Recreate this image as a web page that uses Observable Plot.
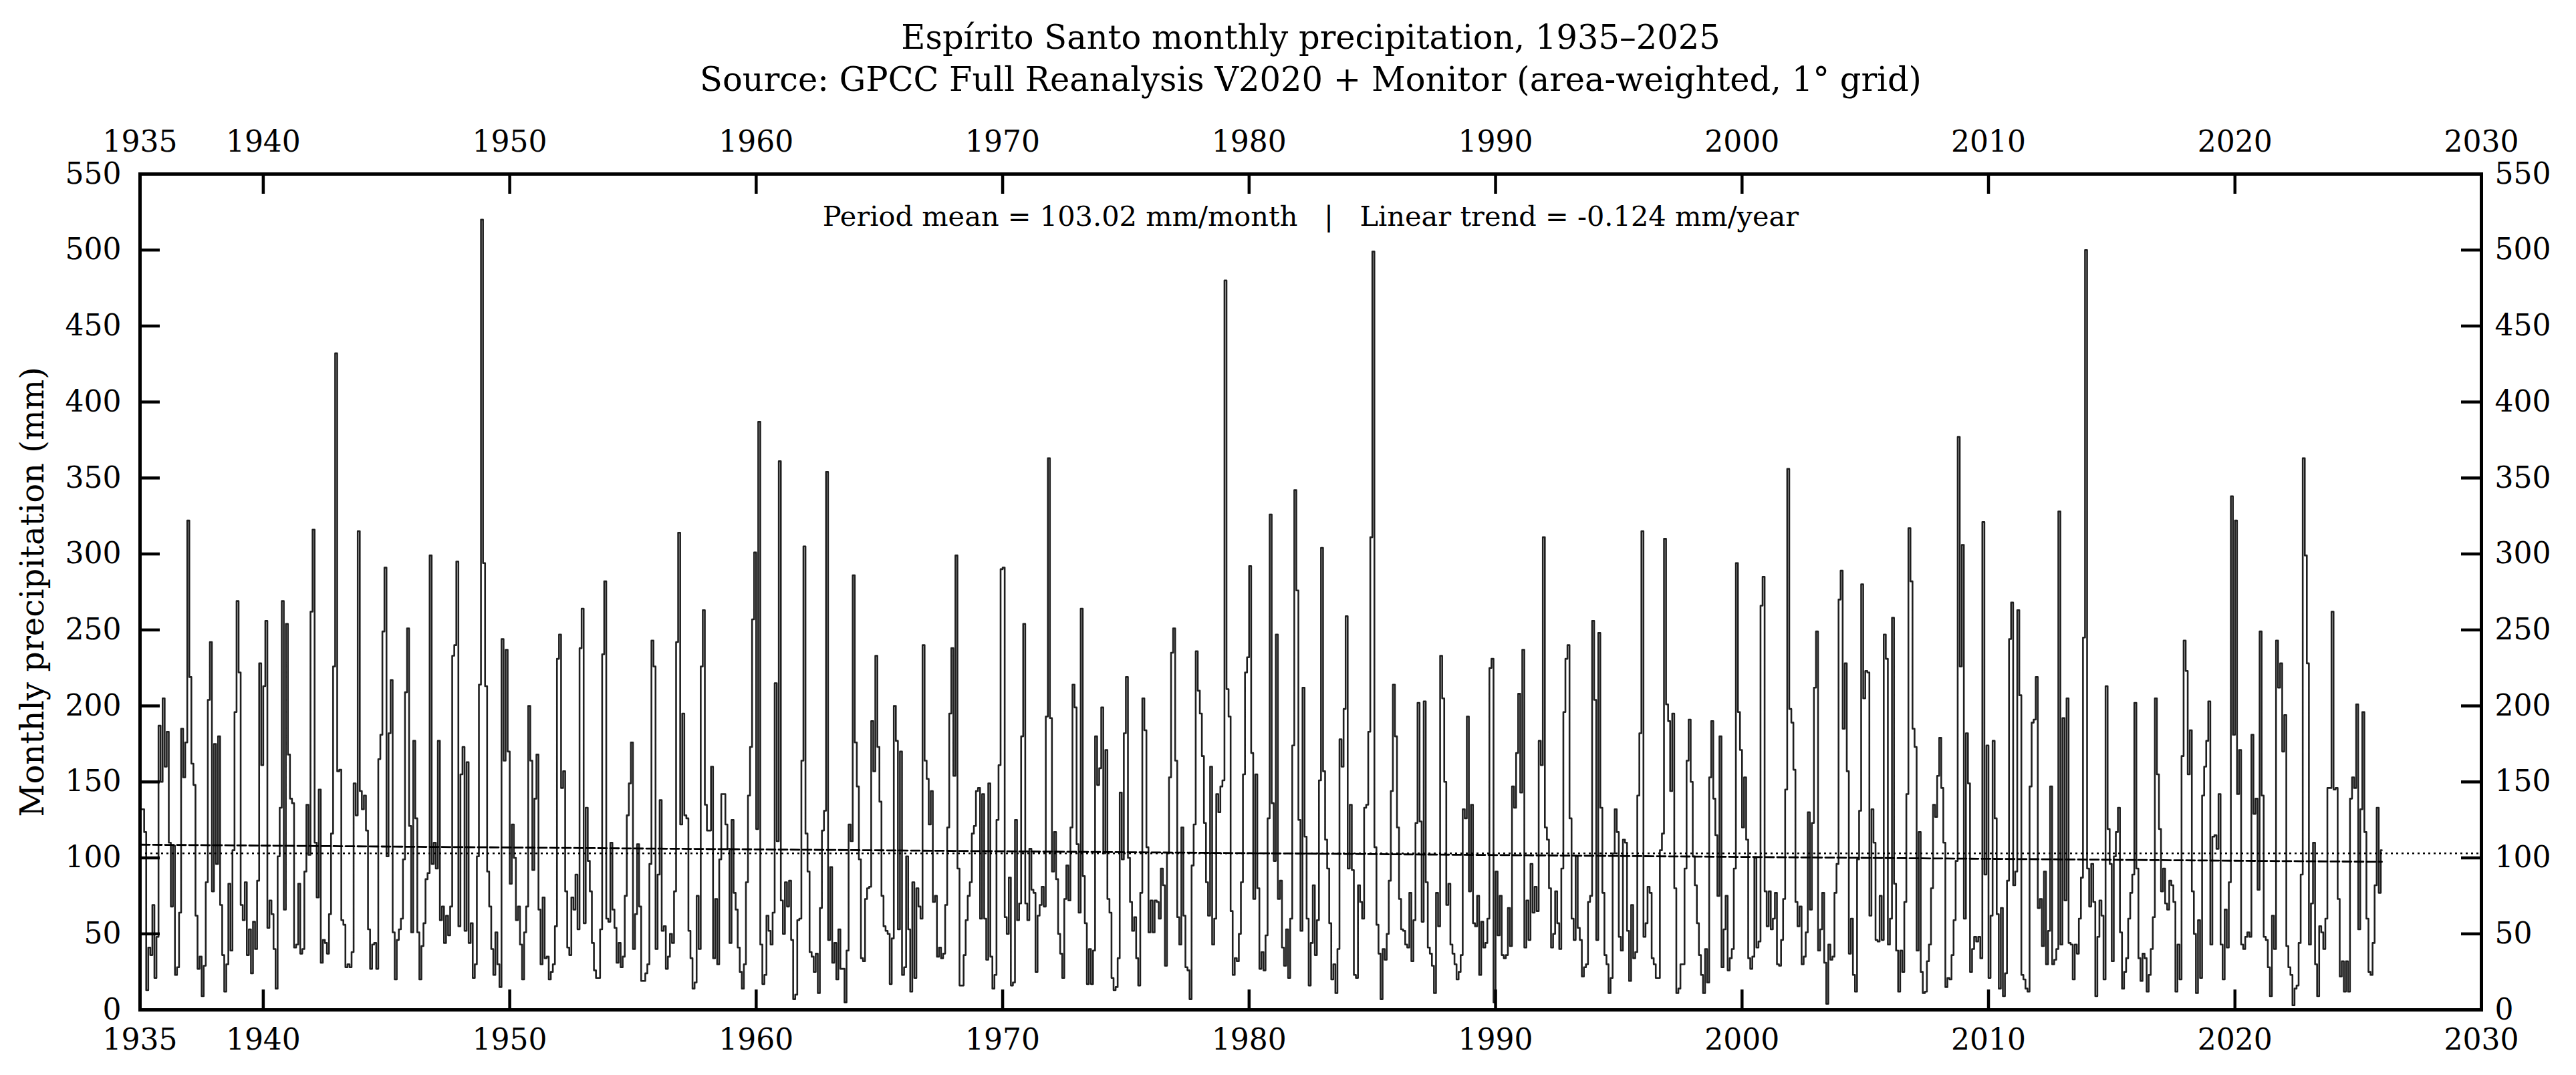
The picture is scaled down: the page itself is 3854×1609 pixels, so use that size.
<!DOCTYPE html>
<html>
<head>
<meta charset="utf-8">
<script src="https://cdn.jsdelivr.net/npm/d3@7"></script>
<script src="https://cdn.jsdelivr.net/npm/@observablehq/plot@0.6"></script>
<style>
html, body { margin: 0; padding: 0; background: #ffffff; }
svg { display: block; }
</style>
</head>
<body>
<div id="chart"></div>
<script>
// Monthly precipitation (mm), Jan..Dec for each year
const p1930s = [
  132,132,117,13,41,36,69,21,48,187,150,205,      // 1935
  160,183,110,68,108,23,28,64,185,153,176,322,    // 1936
  219,162,148,62,27,35,9,29,84,204,242,78,        // 1937
  175,96,180,69,36,12,30,83,39,105,196,269,       // 1938
  222,69,59,84,36,53,24,58,40,85,228,161          // 1939
];
const p1940s = [
  213,256,54,72,63,40,14,101,133,269,66,254,      // 1940
  168,139,136,41,43,83,37,40,91,135,102,262,      // 1941
  316,110,74,145,31,46,44,37,63,116,226,432,      // 1942
  157,158,59,56,28,30,28,38,149,128,315,144,      // 1943
  132,141,118,53,27,43,44,27,165,181,249,291,     // 1944
  101,182,217,51,20,46,53,60,99,209,251,121,      // 1945
  51,177,126,51,20,42,57,86,90,299,96,110,        // 1946
  93,177,59,68,44,62,49,68,233,240,295,55,        // 1947
  155,173,52,163,44,57,21,30,101,214,520,294,     // 1948
  213,91,68,40,23,51,30,15,244,164,237,170        // 1949
];
const p1950s = [
  83,122,100,59,68,43,20,51,68,200,164,92,        // 1950
  139,168,66,30,74,34,35,20,25,30,55,231,         // 1951
  247,146,157,78,41,36,74,66,89,53,238,264,       // 1952
  57,133,98,78,44,26,21,21,53,234,282,60,         // 1953
  58,110,66,54,31,44,28,35,75,128,149,176,        // 1954
  40,63,109,68,19,19,24,30,96,243,226,40,         // 1955
  89,138,52,55,27,35,50,44,78,242,314,122,        // 1956
  195,128,126,52,34,14,18,75,40,226,263,135,      // 1957
  118,118,160,34,73,30,99,142,142,122,106,44,     // 1958
  125,77,66,41,25,14,30,84,141,173,257,301        // 1959
];
const p1960s = [
  119,387,43,17,23,62,52,43,64,215,111,361,       // 1960
  72,50,84,68,85,46,7,10,59,60,164,305,           // 1961
  116,91,38,35,25,37,11,67,118,131,354,46,        // 1962
  94,31,44,20,53,27,27,5,39,122,111,286,          // 1963
  176,147,99,34,32,73,80,81,190,157,233,173,      // 1964
  137,75,55,52,50,17,47,200,177,53,170,23,        // 1965
  28,101,53,12,84,21,80,68,60,240,164,152,        // 1966
  122,144,71,75,35,41,34,37,69,120,195,238,       // 1967
  154,299,93,16,16,36,59,75,84,116,121,144,       // 1968
  146,60,142,60,33,149,35,14,23,125,161,290       // 1969
];
const p1970s = [
  291,61,50,87,16,18,125,59,70,180,254,70,        // 1970
  59,106,79,77,25,62,69,81,68,193,363,192,        // 1971
  91,117,86,50,37,21,73,95,72,120,214,199,        // 1972
  109,64,264,88,57,17,40,17,39,180,148,159,       // 1973
  199,103,171,73,64,21,13,15,34,143,99,182,       // 1974
  219,100,71,52,61,34,16,77,205,184,107,51,       // 1975
  72,51,72,71,60,93,82,29,103,153,235,251,        // 1976
  164,61,43,120,62,28,26,7,95,122,236,210,        // 1977
  195,167,123,84,62,160,43,60,142,130,147,151,    // 1978
  480,211,193,65,23,34,32,50,84,155,222,232       // 1979
];
const p1980s = [
  292,169,73,155,80,27,38,26,49,126,326,136,      // 1980
  98,247,73,85,41,29,53,21,60,174,342,276,        // 1981
  125,52,212,114,60,16,44,82,36,59,151,304,       // 1982
  157,112,93,57,20,30,11,40,178,160,198,259,      // 1983
  93,135,92,23,21,82,71,60,133,135,183,311,       // 1984
  499,107,56,37,7,40,33,50,85,144,214,180,        // 1985
  120,73,53,52,43,41,77,32,59,123,202,124,        // 1986
  58,203,84,41,37,29,11,77,55,233,205,150,        // 1987
  69,83,43,37,30,20,25,36,132,126,193,78,         // 1988
  135,57,55,75,23,58,41,44,60,225,231,5           // 1989
];
const p1990s = [
  91,49,75,36,34,36,67,42,147,133,169,208,        // 1990
  143,237,41,72,46,96,64,81,65,177,161,311,       // 1991
  120,112,80,41,50,78,57,40,93,196,231,240,       // 1992
  126,60,46,101,54,46,22,28,30,71,75,256,         // 1993
  204,46,248,133,77,36,30,11,21,103,132,117,      // 1994
  48,39,112,110,52,19,69,34,38,141,182,315,       // 1995
  48,57,81,77,34,30,21,21,105,116,310,201,        // 1996
  190,144,195,80,11,14,30,30,93,164,191,150,      // 1997
  101,82,57,36,23,11,40,18,153,190,139,115,       // 1998
  75,180,28,53,75,26,34,40,93,294,196,171         // 1999
];
const p2000s = [
  120,153,112,34,27,35,100,41,45,266,285,78,      // 2000
  55,78,53,60,77,30,29,46,73,145,356,198,         // 2001
  189,158,71,55,68,30,35,51,130,66,123,212,       // 2002
  249,39,53,77,31,4,43,33,35,77,96,270,           // 2003
  289,185,228,157,37,60,23,12,99,131,280,205,     // 2004
  223,222,62,132,110,46,45,75,46,247,231,43,      // 2005
  60,258,83,39,12,39,25,71,142,317,282,185,       // 2006
  173,39,117,25,11,12,32,43,80,135,127,154,       // 2007
  179,146,110,15,21,20,36,59,98,377,226,306,      // 2008
  60,182,149,25,40,48,45,48,34,321,89,174         // 2009
];
const p2010s = [
  21,62,177,126,63,14,67,9,24,85,244,268,         // 2010
  82,91,263,207,23,20,14,12,147,189,191,219,      // 2011
  67,73,42,91,30,52,147,30,33,40,328,43,          // 2012
  192,72,205,44,43,20,43,37,60,87,245,500,        // 2013
  93,68,96,71,9,48,72,62,20,213,119,96,           // 2014
  32,101,117,133,51,14,25,34,60,77,89,202,        // 2015
  93,34,19,37,34,12,23,40,61,205,155,119,         // 2016
  78,93,70,66,85,82,71,12,43,20,167,243,          // 2017
  223,155,184,78,50,11,59,21,141,160,177,203,     // 2018
  43,114,115,106,142,43,20,66,41,84,338,181       // 2019
];
const p2020s = [
  322,142,171,43,40,48,51,48,181,129,139,79,      // 2020
  249,141,48,46,28,9,62,40,243,212,228,170,       // 2021
  194,42,28,23,3,14,16,44,89,363,299,228,         // 2022
  43,70,110,30,9,55,51,40,60,146,146,262,         // 2023
  145,146,73,22,32,12,32,12,139,153,146,201,      // 2024
  53,132,196,117,60,25,23,44,82,133,77,105        // 2025
];

const startYear = 1935;
const periodMean = 103.02;             // mm/month (stated in the chart)
const trendYears = [1935.04, 2025.96]; // linear trend endpoints
const trendValues = [108.7, 97.4];
const xTicks = [1935, 1940, 1950, 1960, 1970, 1980, 1990, 2000, 2010, 2020, 2030];
const yTicks = [0, 50, 100, 150, 200, 250, 300, 350, 400, 450, 500, 550];
const titleText = "Espírito Santo monthly precipitation, 1935–2025";
const subtitleText = "Source: GPCC Full Reanalysis V2020 + Monitor (area-weighted, 1° grid)";
const annotationText = "Period mean = 103.02 mm/month\u00a0\u00a0\u00a0|\u00a0\u00a0\u00a0Linear trend = -0.124 mm/year";
const yLabelText = "Monthly precipitation (mm)";

const values = [].concat(p1930s, p1940s, p1950s, p1960s, p1970s, p1980s, p1990s, p2000s, p2010s, p2020s);
const series = values.map((v, i) => ({t: startYear + (i + 0.5) / 12, v}));
const trend = trendYears.map((t, i) => ({t, v: trendValues[i]}));

const W = 3854, H = 1609;
const mL = 209, mR = 142, mT = 260, mB = 98;
const frameW = W - mL - mR, frameH = H - mT - mB;
const tickLen = 30;
const font = "DejaVu Serif";
const tickFont = 44;

const chart = Plot.plot({
  width: W,
  height: H,
  marginLeft: mL,
  marginRight: mR,
  marginTop: mT,
  marginBottom: mB,
  x: {domain: [1935, 2030]},
  y: {domain: [0, 550]},
  style: {fontFamily: font, fontSize: "44px", color: "black", background: "white"},
  marks: [
    Plot.line(series, {x: "t", y: "v", curve: "step", stroke: "#1f1f1f", strokeWidth: 2.6}),
    Plot.ruleY([periodMean], {stroke: "black", strokeWidth: 2.4, strokeDasharray: "3,5"}),
    Plot.line(trend, {x: "t", y: "v", stroke: "black", strokeWidth: 2.8, strokeDasharray: "13,5"}),
    // inward ticks on all four sides
    Plot.ruleX(xTicks, {insetTop: frameH - tickLen, stroke: "black", strokeWidth: 4.5}),
    Plot.ruleX(xTicks, {insetBottom: frameH - tickLen, stroke: "black", strokeWidth: 4.5}),
    Plot.ruleY(yTicks, {insetRight: frameW - tickLen, stroke: "black", strokeWidth: 4.5}),
    Plot.ruleY(yTicks, {insetLeft: frameW - tickLen, stroke: "black", strokeWidth: 4.5}),
    Plot.frame({stroke: "black", strokeWidth: 5}),
    Plot.axisX({anchor: "bottom", ticks: xTicks, tickSize: 0, tickPadding: 28, tickFormat: d => String(d), fontSize: tickFont, label: null}),
    Plot.axisX({anchor: "top", ticks: xTicks, tickSize: 0, tickPadding: 34, tickFormat: d => String(d), fontSize: tickFont, label: null}),
    Plot.axisY({anchor: "left", ticks: yTicks, tickSize: 0, tickPadding: 28, tickFormat: d => String(d), fontSize: tickFont, label: null}),
    Plot.axisY({anchor: "right", ticks: yTicks, tickSize: 0, tickPadding: 20, tickFormat: d => String(d), fontSize: tickFont, label: null}),
    Plot.text([annotationText], {text: d => d, frameAnchor: "top", dy: 48, fontSize: 41.5, fill: "black"}),
    Plot.text([titleText], {text: d => d, frameAnchor: "top", dy: -223, fontSize: 49.5, fill: "black"}),
    Plot.text([subtitleText], {text: d => d, frameAnchor: "top", dy: -160, fontSize: 49.5, fill: "black"}),
    Plot.text([yLabelText], {text: d => d, frameAnchor: "left", dx: -160, rotate: -90, textAnchor: "middle", fontSize: 48, fill: "black"})
  ]
});
document.getElementById("chart").appendChild(chart);
</script>
</body>
</html>
